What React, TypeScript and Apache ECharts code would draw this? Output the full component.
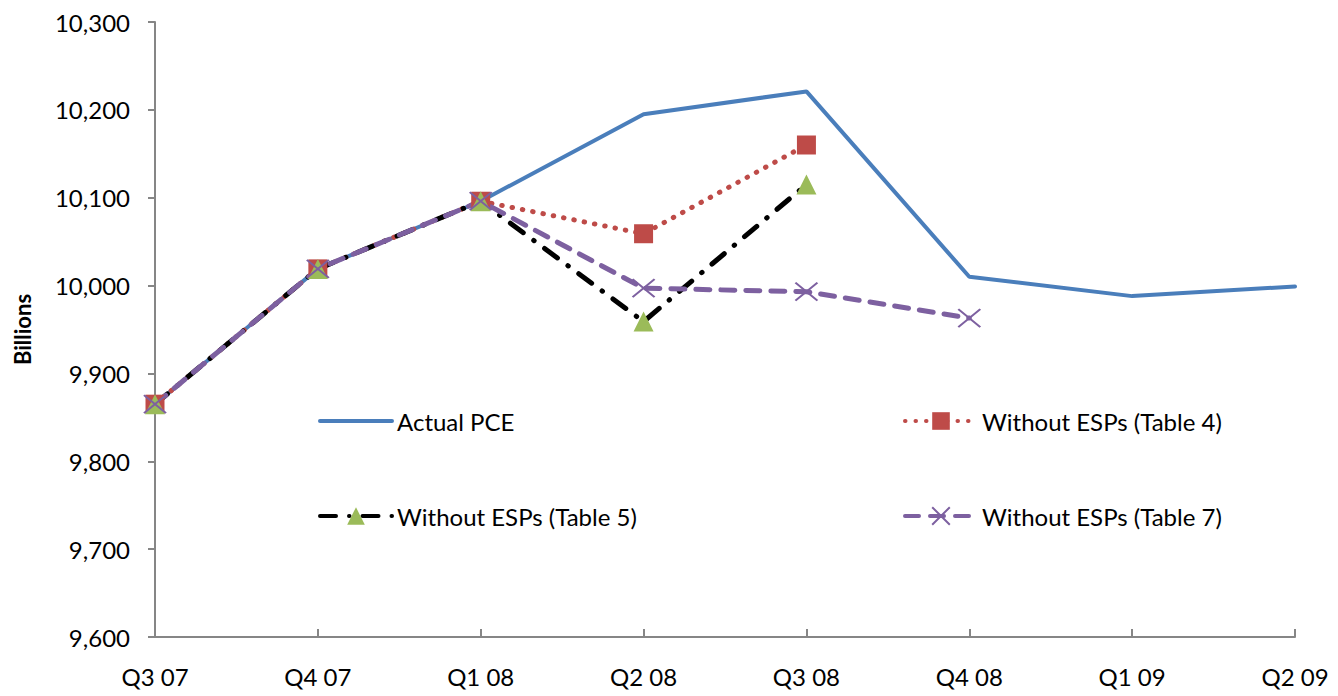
import React, { useEffect, useRef } from "react";
import * as echarts from "echarts";

const categories = ["Q3 07", "Q4 07", "Q1 08", "Q2 08", "Q3 08", "Q4 08", "Q1 09", "Q2 09"];
const actualPCE = [9865, 10019, 10096, 10195, 10221, 10010, 9988, 9999];
const table4 = [9865, 10019, 10096, 10059, 10160];
const table5 = [9865, 10019, 10096, 9959, 10115];
const table7 = [9865, 10019, 10096, 9997, 9993, 9963];
const yTicks = { min: 9600, max: 10300, interval: 100 };

const FONT = "Lato";
const X_PATH = "path://M0,0L10,10M10,0L0,10";

export default function App() {
  const ref = useRef<HTMLDivElement>(null);
  useEffect(() => {
    const chart = echarts.init(ref.current!, null, { renderer: "svg" });
    const legendBase = {
      orient: "horizontal",
      itemWidth: 72,
      itemHeight: 22,
      padding: 0,
      itemGap: 10,
      lineStyle: { width: 4 },
      textStyle: { fontFamily: FONT, fontSize: 24, color: "#000" },
      selectedMode: false,
    };
    const hidden = "rgba(0,0,0,0)";
    chart.setOption({
      animation: false,
      textStyle: { fontFamily: FONT },
      grid: { left: 147, right: 35, top: 14, bottom: 59, outerBoundsMode: "none", containLabel: false },
      legend: [
        {
          ...legendBase,
          data: [{ name: "Actual PCE", itemStyle: { color: hidden, borderColor: hidden, borderWidth: 0 } }],
          left: 310,
          top: 401,
        },
        { ...legendBase, data: ["Without ESPs (Table 4)"], left: 895, top: 401 },
        { ...legendBase, data: ["Without ESPs (Table 5)"], left: 310, top: 496 },
        { ...legendBase, data: ["Without ESPs (Table 7)"], left: 895, top: 496 },
      ],
      xAxis: {
        type: "category",
        data: categories,
        boundaryGap: false,
        axisLine: { lineStyle: { color: "#868686", width: 2 } },
        axisTick: { inside: true, length: 8, lineStyle: { color: "#868686", width: 2 } },
        axisLabel: { fontFamily: FONT, fontSize: 24, color: "#000", margin: 27, showMaxLabel: true },
        splitLine: { show: false },
      },
      yAxis: {
        type: "value",
        min: yTicks.min,
        max: yTicks.max,
        interval: yTicks.interval,
        name: "Billions",
        nameLocation: "middle",
        nameGap: 122,
        nameTextStyle: { fontFamily: FONT, fontSize: 22, fontWeight: "bold", color: "#000" },
        axisLine: { show: true, lineStyle: { color: "#868686", width: 2 } },
        axisTick: { show: true, length: 7, lineStyle: { color: "#868686", width: 2 } },
        axisLabel: {
          fontFamily: FONT,
          fontSize: 24,
          color: "#000",
          margin: 25,
          formatter: (v: number) => v.toLocaleString("en-US"),
        },
        splitLine: { show: false },
      },
      series: [
        {
          name: "Actual PCE",
          type: "line",
          data: actualPCE,
          showSymbol: false,
          symbol: "none",
          lineStyle: { color: "#4A7EBB", width: 4, cap: "round" },
          itemStyle: { color: "#4A7EBB" },
        },
        {
          name: "Without ESPs (Table 4)",
          type: "line",
          data: table4,
          symbol: "rect",
          symbolSize: 19,
          lineStyle: { color: "#BE4B48", width: 5, type: [0.5, 10], cap: "round" },
          itemStyle: { color: "#BE4B48" },
        },
        {
          name: "Without ESPs (Table 5)",
          type: "line",
          data: table5,
          symbol: "triangle",
          symbolSize: 20,
          lineStyle: { color: "#000000", width: 5, type: [16, 13, 0.5, 13], cap: "round" },
          itemStyle: { color: "#9BBB59" },
        },
        {
          name: "Without ESPs (Table 7)",
          type: "line",
          data: table7,
          symbol: X_PATH,
          symbolSize: [22, 18],
          lineStyle: { color: "#7D60A0", width: 5, type: [14, 11], cap: "round" },
          itemStyle: { color: "none", borderColor: "#7D60A0", borderWidth: 2 },
        },
      ],
    });
    return () => chart.dispose();
  }, []);
  return <div ref={ref} style={{ width: 1322, height: 688 }} />;
}
